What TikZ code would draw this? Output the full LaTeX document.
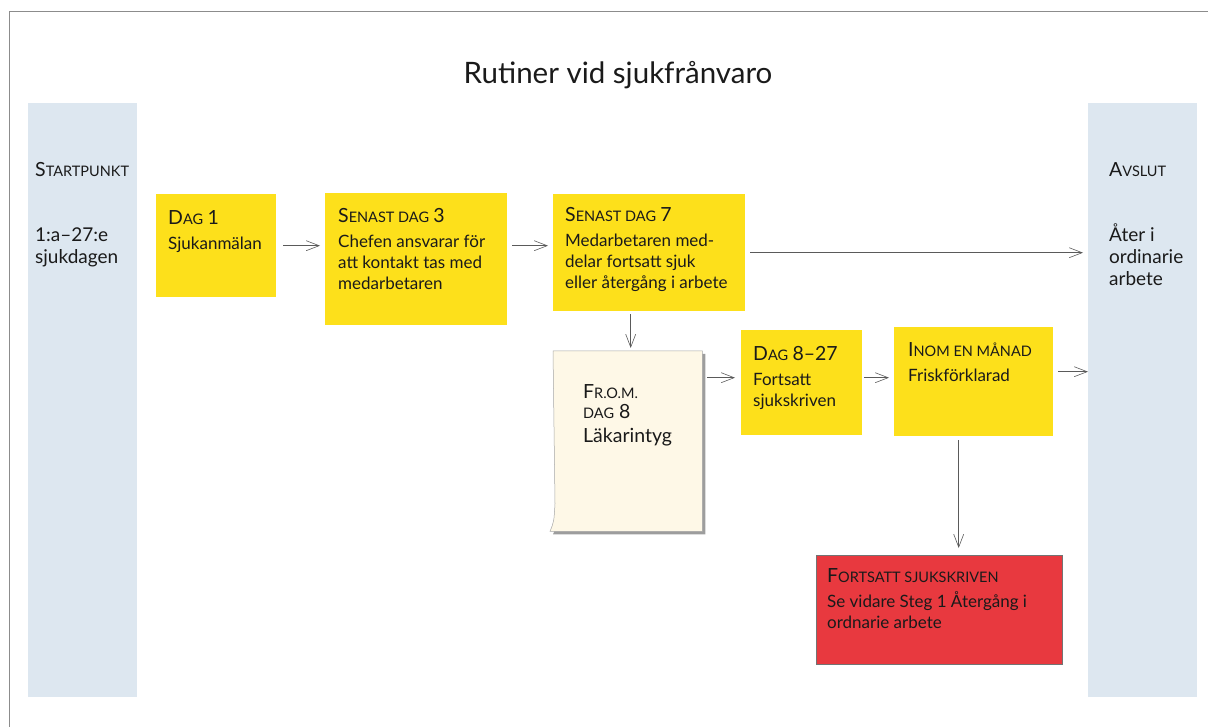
\documentclass[tikz,border=0pt]{standalone}
\usepackage{fontspec}
\setmainfont{Lato}
\usetikzlibrary{arrows.meta, shadows}
\definecolor{bandblue}{HTML}{DDE7F0}
\definecolor{noteyellow}{HTML}{FDE01B}
\definecolor{alertred}{HTML}{E8393F}
\definecolor{papercream}{HTML}{FEF8E7}
\definecolor{arrowgrey}{HTML}{5A5A5A}
\definecolor{inktext}{HTML}{1A1A1A}
\newcommand\hsz{\fontsize{19.5}{21}\selectfont}
\newcommand\scs{\fontsize{14.5}{21}\selectfont}
\newcommand\bodyfont{\fontsize{17}{21}\selectfont}
\newcommand\bandfont{\fontsize{19}{22}\selectfont}

\begin{document}
\begin{tikzpicture}[x=1pt, y=-1pt,
  band/.style={fill=bandblue, inner sep=0pt, anchor=north west, minimum width=109pt, minimum height=594pt},
  note/.style={fill=noteyellow, inner sep=0pt, anchor=north west},
  txt/.style={anchor=north west, inner sep=0pt, align=left, text=inktext, font=\bodyfont},
  arr/.style={-{Straight Barb[length=13pt, width=10pt]}, arrowgrey, line width=0.6pt, shorten <=5pt, shorten >=5pt}]
  \useasboundingbox (0,0) rectangle (1208,727);

  % page frame (cut at right and bottom)
  \draw[black!45, line width=1.2pt] (9.5,727) -- (9.5,11.5) -- (1208,11.5);

  % title
  \node[font=\fontsize{29.5}{32}\selectfont, text=inktext] (title) at (618,75) {Rutiner vid sjukfrånvaro};

  % start and end bands
  \node[band] (start) at (28,103) {};
  \node[band] (avslut) at (1088,103) {};
  \node[txt, font=\bandfont] (starttxt) at ([shift={(7,59)}]start.north west)
    {{\hsz S}{\scs TARTPUNKT}\\[43pt]1:a–27:e\\sjukdagen};
  \node[txt, font=\bandfont] (avsluttxt) at ([shift={(21,59)}]avslut.north west)
    {{\hsz A}{\scs VSLUT}\\[43pt]Åter i\\ordinarie\\arbete};

  % yellow notes
  \node[note, minimum width=120pt, minimum height=103pt] (d1) at (156,194) {};
  \node[txt] (d1txt) at ([shift={(12,16)}]d1.north west)
    {{\hsz D}{\scs AG} {\hsz 1}\\[4pt]Sjukanmälan};

  \node[note, minimum width=182pt, minimum height=132pt] (s3) at (325,193) {};
  \node[txt] (s3txt) at ([shift={(13,15)}]s3.north west)
    {{\hsz S}{\scs ENAST DAG} {\hsz 3}\\[4pt]Chefen ansvarar för\\att kontakt tas med\\medarbetaren};

  \node[note, minimum width=192pt, minimum height=117pt] (s7) at (553,194) {};
  \node[txt] (s7txt) at ([shift={(12,13)}]s7.north west)
    {{\hsz S}{\scs ENAST DAG} {\hsz 7}\\[4pt]Medarbetaren med-\\delar fortsatt sjuk\\eller återgång i arbete};

  \node[note, minimum width=121pt, minimum height=105pt] (d827) at (741,330) {};
  \node[txt] (d827txt) at ([shift={(12,16)}]d827.north west)
    {{\hsz D}{\scs AG} {\hsz 8–27}\\[4pt]Fortsatt\\sjukskriven};

  \node[note, minimum width=159pt, minimum height=109pt] (inom) at (894,327) {};
  \node[txt] (inomtxt) at ([shift={(14,15)}]inom.north west)
    {{\hsz I}{\scs NOM EN MÅNAD}\\[4pt]Friskförklarad};

  % doctor's certificate, a curled sheet
  \node[inner sep=0pt, anchor=north west, minimum width=149pt, minimum height=180pt] (lak) at (553,351) {};
  \filldraw[fill=papercream, draw=black!35, line width=0.5pt,
    drop shadow={shadow xshift=3pt, shadow yshift=-3pt, opacity=0.55, fill=black!70}]
    (lak.north west) -- (lak.north east) -- (lak.south east) -- ([xshift=-3pt]lak.south west)
    .. controls ([shift={(1,-10)}]lak.south west) .. ([shift={(2,-28)}]lak.south west) -- cycle;
  \node[txt, font=\hsz] (laktxt) at ([shift={(30,33)}]lak.north west)
    {F{\scs R.O.M.}\\[-1pt]{\scs DAG} 8\\[3pt]Läkarintyg};

  % red note
  \node[fill=alertred, draw=black!55, line width=0.6pt, inner sep=0pt, anchor=north west,
    minimum width=246pt, minimum height=109pt] (red) at (816,555) {};
  \node[txt] (redtxt) at ([shift={(11,13)}]red.north west)
    {{\hsz F}{\scs ORTSATT SJUKSKRIVEN}\\[4pt]Se vidare Steg 1 Återgång i\\ordnarie arbete};

  % connectors
  \draw[arr, shorten <=7pt] (d1.east) -- (d1.east -| s3.west);
  \draw[arr] (s3.east |- d1.east) -- (s7.west |- d1.east);
  \draw[arr] (s7.east) -- (s7.east -| avslut.west);
  \draw[arr, shorten <=3pt, shorten >=3pt] ([xshift=3pt]s7.south -| lak.north) -- ([xshift=3pt]lak.north);
  \draw[arr, shorten >=6pt] ([yshift=5pt]lak.east |- d827.west) -- ([yshift=5pt]d827.west);
  \draw[arr, shorten <=2pt] ([yshift=5pt]d827.east) -- ([yshift=5pt]d827.east -| inom.west);
  \draw[arr, shorten >=0pt] ([yshift=10pt]inom.east) -- ([yshift=10pt]inom.east -| avslut.west);
  \draw[arr, shorten <=4pt, shorten >=7pt] ([xshift=-15pt]inom.south) -- ([xshift=-15pt]inom.south |- red.north);
\end{tikzpicture}
\end{document}
